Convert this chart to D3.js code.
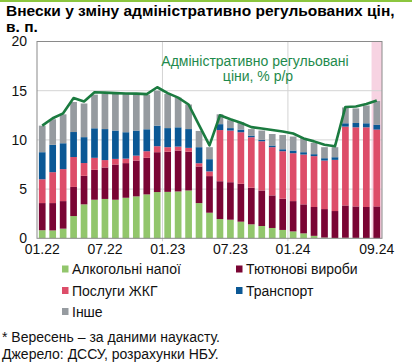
<!DOCTYPE html>
<html>
<head>
<meta charset="utf-8">
<script src="https://cdn.jsdelivr.net/npm/d3@7/dist/d3.min.js"></script>
<style>
  html, body { margin: 0; padding: 0; background: #fff; }
  svg { display: block; font-family: "Liberation Sans", Arial, sans-serif; }
</style>
</head>
<body>
<svg id="chart" width="412" height="364"></svg>
<script>
const months = ["01.22","02.22","03.22","04.22","05.22","06.22","07.22","08.22","09.22","10.22","11.22","12.22",
                "01.23","02.23","03.23","04.23","05.23","06.23","07.23","08.23","09.23","10.23","11.23","12.23",
                "01.24","02.24","03.24","04.24","05.24","06.24","07.24","08.24","09.24"];
const tickLabels = ["01.22","07.22","01.23","07.23","01.24","09.24"];
const yTicks = [0, 5, 10, 15, 20];

const seriesNames = ["Алкогольні напої", "Тютюнові вироби", "Послуги ЖКГ", "Транспорт", "Інше"];
const alcohol   = [0.82,0.80,0.98,2.26,3.45,3.92,4.00,3.92,4.12,4.26,4.46,4.70,4.72,4.76,4.86,3.58,2.60,1.96,1.89,1.69,1.42,1.25,1.05,0.85,0.70,0.50,0.25,0.07,0.03,0.05,0.04,0.03,0.00];
const tobacco   = [2.76,2.78,2.80,2.96,2.90,3.04,3.20,3.58,3.52,3.64,3.72,4.05,4.08,4.16,3.94,3.72,3.72,3.84,3.81,3.85,3.72,3.61,3.31,3.17,3.08,2.95,2.93,2.90,2.74,3.29,3.20,3.15,3.24];
const housing   = [2.42,3.14,3.25,3.04,1.30,1.22,0.75,0.57,0.46,0.50,0.67,0.61,0.46,0.40,0.39,0.33,0.48,5.20,5.25,5.24,5.13,5.00,4.90,4.83,4.87,5.06,5.17,4.93,5.20,8.01,8.04,8.10,7.81];
const transport = [2.75,2.78,2.63,2.54,2.63,3.00,3.15,2.88,2.68,2.55,2.23,2.09,1.94,1.96,1.91,1.63,1.24,0.60,0.25,0.27,0.17,0.14,0.17,0.20,0.27,0.24,0.20,0.24,0.27,0.34,0.44,0.41,0.50];
const other     = [2.70,2.60,2.94,3.05,3.42,3.42,3.60,3.78,3.92,3.70,3.52,3.55,3.46,3.02,2.50,1.65,1.22,1.00,0.80,0.75,0.66,0.95,1.17,1.45,1.42,1.45,1.15,1.12,1.02,1.61,1.48,1.81,2.40];
const adminPrices = [11.45,12.2,12.7,14.25,13.9,14.85,14.8,14.75,14.72,14.7,14.65,15.35,14.75,14.3,13.6,11.5,9.45,12.5,12.1,11.75,11.3,11.15,11.0,10.85,10.65,10.15,9.85,9.5,9.35,13.35,13.4,13.65,14.0];
const nowcastMonth = "09.24";

const colors = ["#92c66c", "#7a0534", "#dd4d69", "#0b5895", "#969ba0"];
const lineColor = "#1b7b40";

const svg = d3.select("#chart");
const L = 37, R = 382, T = 41.5, B = 238.3;

const x = d3.scaleBand().domain(months).range([L, R]).paddingInner(0.36).paddingOuter(0.18);
const y = d3.scaleLinear().domain([0, 20]).range([B, T]);

// top green rule
svg.append("rect").attr("x", 0).attr("y", 0).attr("width", 412).attr("height", 2).attr("fill", "#8cc63f");

// title
const title = svg.append("text").attr("font-weight", "bold").attr("font-size", 15.5).attr("fill", "#000");
title.append("tspan").attr("x", 6).attr("y", 15.5).text("Внески у зміну адміністративно регульованих цін,");
title.append("tspan").attr("x", 6).attr("y", 32).text("в. п.");

// nowcast shading
svg.append("rect")
  .attr("x", x(nowcastMonth) - x.step() * x.paddingInner() / 2)
  .attr("y", T).attr("width", R - (x(nowcastMonth) - x.step() * x.paddingInner() / 2))
  .attr("height", B - T).attr("fill", "#f7d3e2");

// horizontal gridlines
svg.append("g").selectAll("line").data(yTicks.filter(d => d > 0 && d < 20)).join("line")
  .attr("x1", L).attr("x2", R).attr("y1", d => y(d)).attr("y2", d => y(d))
  .attr("stroke", "#d4d4d4").attr("stroke-width", 1);

// vertical year gridlines
const yearStarts = ["01.23", "01.24"];
svg.append("g").selectAll("line").data(yearStarts).join("line")
  .attr("x1", d => x(d) - x.step() * x.paddingInner() / 2)
  .attr("x2", d => x(d) - x.step() * x.paddingInner() / 2)
  .attr("y1", T).attr("y2", B + 3)
  .attr("stroke", "#d4d4d4").attr("stroke-width", 1);

// stacked bars
const table = months.map((m, i) => ({
  month: m, s0: alcohol[i], s1: tobacco[i], s2: housing[i], s3: transport[i], s4: other[i]
}));
const stack = d3.stack().keys(["s0","s1","s2","s3","s4"]);
const stacked = stack(table);

svg.append("g").selectAll("g").data(stacked).join("g")
  .attr("fill", (d, i) => colors[i])
  .selectAll("rect").data(d => d).join("rect")
  .attr("x", d => x(d.data.month))
  .attr("width", x.bandwidth())
  .attr("y", d => y(d[1]))
  .attr("height", d => Math.max(0, y(d[0]) - y(d[1])));

// frame
svg.append("rect").attr("x", L).attr("y", T).attr("width", R - L).attr("height", B - T)
  .attr("fill", "none").attr("stroke", "#8a8a8a").attr("stroke-width", 1);

// x axis
const xAxis = d3.axisBottom(x).tickValues(tickLabels).tickSize(0).tickPadding(6);
const gx = svg.append("g").attr("transform", `translate(0,${B})`).call(xAxis);
gx.select(".domain").remove();
gx.selectAll("text").attr("font-size", 14).attr("fill", "#111").attr("font-family", "Liberation Sans, Arial, sans-serif");

// y axis
const yAxis = d3.axisLeft(y).tickValues(yTicks).tickSize(0).tickPadding(10);
const gy = svg.append("g").attr("transform", `translate(${L},0)`).call(yAxis);
gy.select(".domain").remove();
gy.selectAll("text").attr("font-size", 14).attr("fill", "#111").attr("font-family", "Liberation Sans, Arial, sans-serif");

// line
const line = d3.line().x((d, i) => x(months[i]) + x.bandwidth() / 2).y(d => y(d));
svg.append("path").datum(adminPrices).attr("d", line)
  .attr("fill", "none").attr("stroke", lineColor).attr("stroke-width", 2.6).attr("stroke-linejoin", "round");

// annotation
const ann = svg.append("text").attr("font-size", 14).attr("fill", "#1e8a4c").attr("text-anchor", "middle");
ann.append("tspan").attr("x", 255).attr("y", 65.5).text("Адміністративно регульовані");
ann.append("tspan").attr("x", 258).attr("y", 80.5).text("ціни, % р/р");

// legend
const legendPos = [[62, 269], [236, 269], [62, 290.5], [236, 290.5], [62, 311.5]];
const lg = svg.append("g").selectAll("g").data(seriesNames).join("g")
  .attr("transform", (d, i) => `translate(${legendPos[i][0]},${legendPos[i][1]})`);
lg.append("rect").attr("x", 0).attr("y", -3.5).attr("width", 6.5).attr("height", 7).attr("fill", (d, i) => colors[i]);
lg.append("text").attr("x", 10).attr("y", 5).attr("font-size", 14).attr("fill", "#111").text(d => d);

// footnotes
svg.append("text").attr("x", 2).attr("y", 342).attr("font-size", 14).attr("fill", "#111").text("* Вересень – за даними наукасту.");
svg.append("text").attr("x", 2).attr("y", 359).attr("font-size", 14).attr("fill", "#111").text("Джерело: ДССУ, розрахунки НБУ.");
</script>
</body>
</html>
